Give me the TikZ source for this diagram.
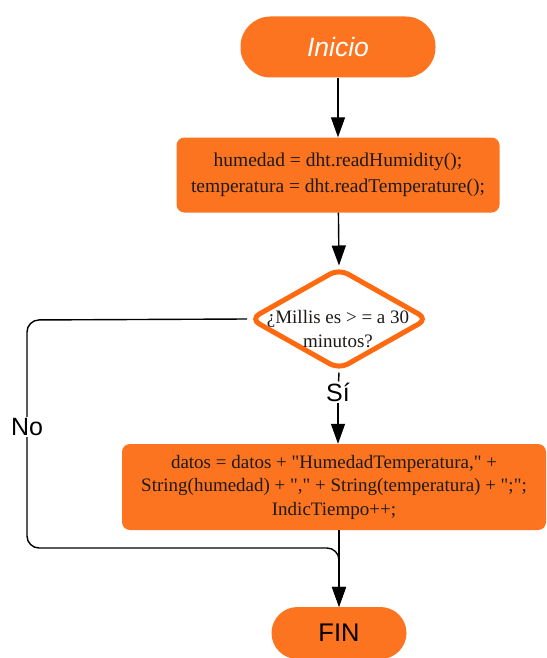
\documentclass[tikz,border=0pt]{standalone}
\usepackage{fontspec}
\setmainfont{Liberation Serif}
% same face without TeX input mapping, so " stays straight
\newfontfamily\codeserif{Liberation Serif}
\newfontfamily\labelsans{Liberation Sans}
\usetikzlibrary{shapes.geometric,arrows.meta}
\definecolor{flowor}{HTML}{FC7420}
\definecolor{diaor}{HTML}{FF6A10}
\definecolor{boxtext}{HTML}{1E1A16}
\tikzset{
  terminal/.style={fill=flowor, draw=none, rounded corners=#1, text=white},
  procbox/.style={fill=flowor, draw=none, rounded corners=8pt, text=boxtext,
    align=center, font=\codeserif\fontsize{19.5}{26}\selectfont},
  arr/.style={line width=1.4pt, -{Triangle[length=20pt,width=14pt]}},
  conn/.style={line width=1.4pt},
  lbl/.style={font=\labelsans\fontsize{25}{28}\selectfont, fill=white, inner sep=1pt}
}
\begin{document}
\begin{tikzpicture}[x=1pt,y=-1pt]
\useasboundingbox (0,0) rectangle (546,658);

% start / end terminals
\node[terminal=30pt, minimum width=195pt, minimum height=61pt,
      font=\labelsans\itshape\fontsize{26.5}{30}\selectfont] (ini) at (338,47) {Inicio};
\node[terminal=26pt, minimum width=135pt, minimum height=52pt, text=black,
      font=\labelsans\fontsize{25.5}{28}\selectfont] (fin) at (339,633) {FIN};

% read sensors
\node[procbox, minimum width=323pt, minimum height=75pt] (read) at (338,175)
  {humedad = dht.readHumidity();\\temperatura = dht.readTemperature();};

% decision
\node[diamond, draw=diaor, line width=5pt, fill=white, rounded corners=10pt,
      minimum width=179pt, minimum height=102pt, inner sep=0pt] (dec) at (339,319) {};
\node[align=center, text=boxtext, font=\codeserif\fontsize{19}{24}\selectfont] (dectext) at (338,329)
  {¿Millis es > = a 30\\minutos?};

% store data
\node[procbox, minimum width=424pt, minimum height=86pt,
      font=\codeserif\fontsize{19}{23.5}\selectfont] (store) at (334,487)
  {datos = datos + "HumedadTemperatura," +\\String(humedad) + "," + String(temperatura) + ";";\\IndicTiempo++;};

% connectors
\draw[arr] (ini) -- (read);
\draw[arr] (read) -- (dec.north);
\node[lbl] (si) at (338,392) {Sí};
\draw[conn] (dec.south) -- (si);
\draw[arr] (si) -- (si |- store.north);
\draw[arr] (store.south -| fin.north) -- (fin.north);

\coordinate (lt) at (27,320);
\coordinate (lb) at (27,548);
\draw[arr, rounded corners=12pt] (dec.west) -- (lt) -- (lb) -- (lb -| fin.north) -- (fin.north);
\node[lbl] (no) at (27,427) {No};
\end{tikzpicture}
\end{document}
